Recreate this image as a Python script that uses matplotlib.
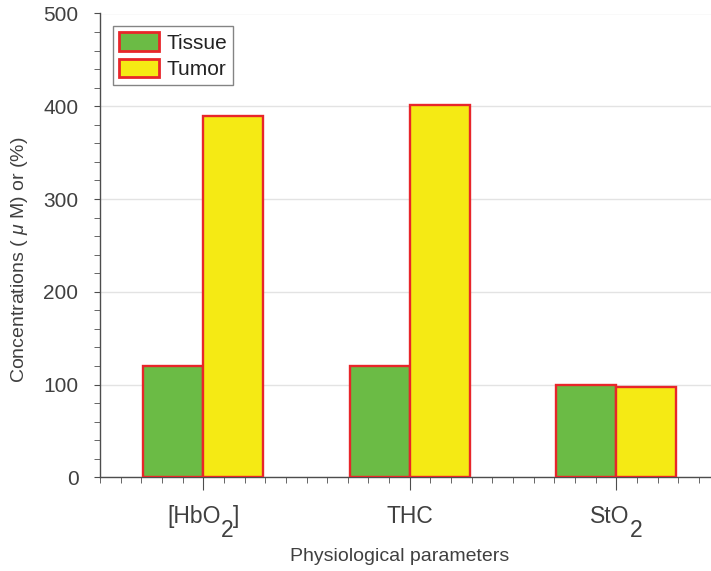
import re
import matplotlib
matplotlib.use("Agg")
import matplotlib.pyplot as plt
import numpy as np
from matplotlib.ticker import MultipleLocator

plt.rcParams['font.family'] = ['Liberation Sans', 'DejaVu Sans']
plt.rcParams['mathtext.fontset'] = 'custom'
plt.rcParams['mathtext.rm'] = 'Liberation Sans'
plt.rcParams['mathtext.it'] = 'Liberation Sans:italic'

categories = ['[HbO2]', 'THC', 'StO2']
tissue = [120, 120, 100]
tumor = [390, 401, 97]
series_names = ['Tissue', 'Tumor']

text_c = '#404040'
axis_c = '#4d4d4d'
green = '#6BBB45'
yellow = '#F5EA14'
edge = '#E8262A'
xtick_fs = 16.5
ytick_fs = 15

W, H = 711, 571
fig = plt.figure(figsize=(W / 100, H / 100), dpi=100)
ax_left, ax_bottom, ax_h = 100, 477.3, 463.8
ax = fig.add_axes([ax_left / W, (H - ax_bottom) / H, (W - ax_left) / W, ax_h / H])

x = np.arange(1, len(categories) + 1)
w = 0.29
ax.bar(x - w / 2, tissue, width=w, color=green, edgecolor=edge, linewidth=1.7,
       label=series_names[0], zorder=3)
ax.bar(x + w / 2, tumor, width=w, color=yellow, edgecolor=edge, linewidth=1.7,
       label=series_names[1], zorder=3)

ax.set_xlim(0.5, 0.5 + (W - ax_left) / 206.5)
ax.set_ylim(0, 500)
ax.set_xticks(x)
ax.set_xticklabels([])
ax.xaxis.set_minor_locator(MultipleLocator(0.1))
ax.set_yticks(np.arange(0, 501, 100))
ax.yaxis.set_minor_locator(MultipleLocator(20))

ax.grid(axis='y', which='major', color='#e3e3e3', linewidth=1.0, zorder=0)
ax.set_axisbelow(True)

for s in ['top', 'right']:
    ax.spines[s].set_visible(False)
for s in ['left', 'bottom']:
    ax.spines[s].set_color(axis_c)
    ax.spines[s].set_linewidth(1.0)

ax.tick_params(axis='both', which='both', direction='out', colors=axis_c,
               labelcolor=text_c)
ax.tick_params(axis='y', which='major', length=4.5, pad=11, labelsize=ytick_fs)
ax.tick_params(axis='y', which='minor', length=4.5)
ax.tick_params(axis='x', which='major', length=9.5)
ax.tick_params(axis='x', which='minor', length=4.3)

# category labels with full-size, lowered subscripts
fig.canvas.draw()
renderer = fig.canvas.get_renderer()


def text_width(s):
    t = fig.text(0, 0, s, fontsize=xtick_fs)
    wd = t.get_window_extent(renderer).width
    t.remove()
    return wd


base_drop, sub_drop = 45.7, 59.5
for xi, lab in zip(x, categories):
    parts = [(p, p.isdigit()) for p in re.split(r'(\d+)', lab) if p]
    widths = [text_width(p) for p, _ in parts]
    dx = -sum(widths) / 2
    for (p, is_sub), wd in zip(parts, widths):
        ax.annotate(p, xy=(xi, 0), xycoords=('data', 'axes fraction'),
                    xytext=(dx, -(sub_drop if is_sub else base_drop)),
                    textcoords='offset pixels', ha='left', va='baseline',
                    fontsize=xtick_fs, color=text_c, annotation_clip=False)
        dx += wd

ax.set_xlabel('Physiological parameters', fontsize=14, color=text_c)
ax.xaxis.set_label_coords(0.49, -0.152)
ax.set_ylabel(r'Concentrations ( $\mathit{\mu}$ M) or (%)', fontsize=14, color=text_c)
ax.yaxis.label.set_va('center')
ax.yaxis.set_label_coords((20 - ax_left) / (W - ax_left), 0.47)

leg = ax.legend(loc='upper left',
                bbox_to_anchor=((113 - ax_left) / (W - ax_left), (ax_bottom - 26) / ax_h),
                fontsize=15, frameon=True, fancybox=False, edgecolor='#666666',
                handlelength=1.9, handleheight=1.0, handletextpad=0.35,
                borderpad=0.3, labelspacing=0.28, borderaxespad=0)
leg.get_frame().set_linewidth(1.0)
for t in leg.get_texts():
    t.set_color('#222222')
for p in leg.get_patches():
    p.set_linewidth(2.0)

fig.savefig('out.png', dpi=100)
